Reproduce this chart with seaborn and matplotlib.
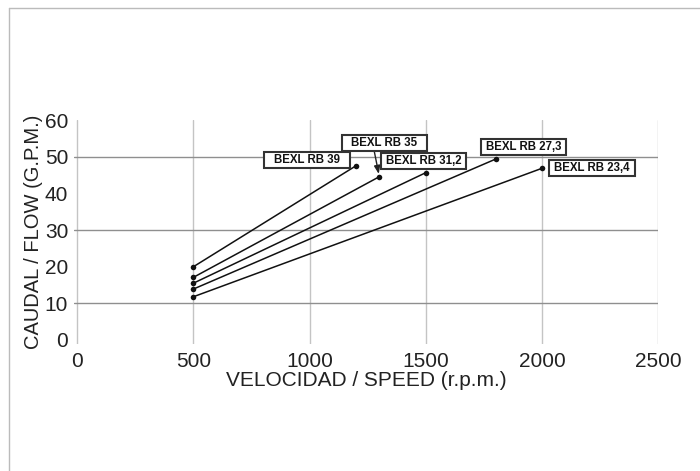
import matplotlib
matplotlib.use("Agg")
import matplotlib.pyplot as plt
from matplotlib.lines import Line2D
from matplotlib.path import Path
import seaborn as sns
import numpy as np
import pandas as pd

# Data
models = ["BEXL RB 39", "BEXL RB 35", "BEXL RB 31,2", "BEXL RB 27,3", "BEXL RB 23,4"]
speed_min = [500, 500, 500, 500, 500]
speed_max = [1200, 1300, 1500, 1800, 2000]
flow_min = [20.0, 17.1, 15.5, 13.9, 11.8]
flow_max = [47.6, 44.6, 45.7, 49.4, 46.9]

x_ticks = [0, 500, 1000, 1500, 2000, 2500]
y_ticks = [0, 10, 20, 30, 40, 50, 60]
y_grid = [10, 30, 50]

# label placement (pixels from the end point)
label_offsets = [(-49, 6), (5, 34), (-2, 12), (28, 12), (50, 0)]

df = pd.DataFrame({
    "model": models * 2,
    "speed": speed_min + speed_max,
    "flow": flow_min + flow_max,
})

sns.set_style("white")
plt.rcParams["font.family"] = ["Liberation Sans", "DejaVu Sans"]

fig = plt.figure(figsize=(7, 4.71), dpi=100)
ax = fig.add_axes([0.1053, 0.2705, 0.835, 0.474])

sns.lineplot(data=df, x="speed", y="flow", units="model", estimator=None,
             color="#111111", linewidth=1.1, marker="o", markersize=4,
             markeredgewidth=0, ax=ax, zorder=3)

ax.set_xlim(-15, 2500)
ax.set_ylim(-1, 60)
ax.set_xticks(x_ticks)
ax.set_yticks(y_ticks)
ax.tick_params(length=0, labelsize=15, labelcolor="#222222")
ax.tick_params(axis="x", pad=6)
ax.tick_params(axis="y", pad=4)

ax.grid(axis="x", color="#c4c4c4", linewidth=1.0)
ax.grid(axis="y", visible=False)
for yv in y_grid:
    ax.axhline(yv, color="#8f8f8f", linewidth=1.0, zorder=1)
for s in ax.spines.values():
    s.set_visible(False)

ax.set_xlabel("VELOCIDAD / SPEED (r.p.m.)", fontsize=15, color="#222222", labelpad=0)
ax.set_ylabel("CAUDAL / FLOW (G.P.M.)", fontsize=14.5, color="#222222", labelpad=1)


def fixed_box(x0, y0, width, height, mutation_size):
    # all label boxes share the same width, text centred inside
    half_w = 3.7 * mutation_size
    pady = 0.16 * mutation_size
    cx = x0 + width / 2
    bx0, bx1 = cx - half_w, cx + half_w
    by0, by1 = y0 - pady, y0 + height + pady
    return Path([(bx0, by0), (bx1, by0), (bx1, by1), (bx0, by1), (bx0, by0)], closed=True)


for name, sx, fy, off in zip(models, speed_max, flow_max, label_offsets):
    arrow = None
    if name == "BEXL RB 35":
        arrow = dict(arrowstyle="-|>,head_length=0.4,head_width=0.15", color="#222222",
                     lw=1.0, relpos=(0.34, 0), shrinkA=0, shrinkB=2, mutation_scale=12)
    ax.annotate(name, xy=(sx, fy), xytext=off, textcoords="offset pixels",
                ha="center", va="center", fontsize=8.3, weight="bold",
                family=["Liberation Sans"], color="#111111",
                bbox=dict(boxstyle=fixed_box, facecolor="white", edgecolor="#333333", linewidth=1.5),
                arrowprops=arrow, zorder=5)

# thin page border at top and left
fig.add_artist(Line2D([9 / 700, 1], [1 - 8 / 471, 1 - 8 / 471], transform=fig.transFigure,
                      color="#bbbbbb", linewidth=1.0))
fig.add_artist(Line2D([9 / 700, 9 / 700], [0, 1 - 8 / 471], transform=fig.transFigure,
                      color="#bbbbbb", linewidth=1.0))

fig.savefig("out.png", dpi=100)
plt.close(fig)
